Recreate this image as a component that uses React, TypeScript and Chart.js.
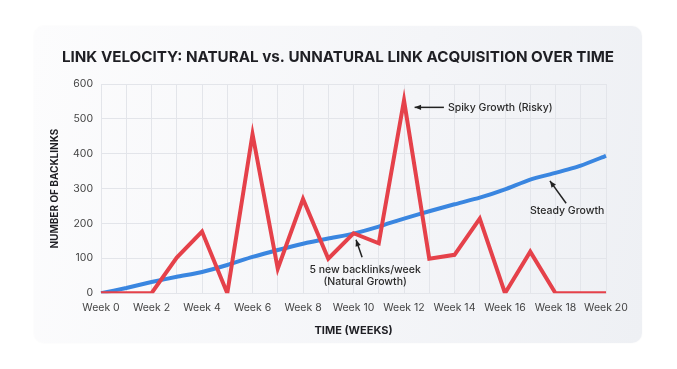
import React, { useEffect, useRef } from "react";
import { Chart, registerables } from "chart.js";

Chart.register(...registerables);

const weeks: string[] = Array.from({ length: 21 }, (_, i) => `Week ${i}`);
const spikyGrowth: number[] = [0, 0, 0, 102, 177, 0, 456, 70, 270, 99, 172, 143, 553, 99, 110, 214, 0, 119, 0, 0, 0];
const steadyGrowth: number[] = [0, 15, 32, 47, 61, 81, 104, 124, 142, 157, 171, 191, 214, 235, 255, 274, 298, 326, 345, 366, 394];
const yTicks: number[] = [0, 100, 200, 300, 400, 500, 600];

const titleText = "LINK VELOCITY: NATURAL vs. UNNATURAL LINK ACQUISITION OVER TIME";
const yTitle = "NUMBER OF BACKLINKS";
const xTitle = "TIME (WEEKS)";

// annotations in data space: [x index, y value]
const noteSpiky = { text: ["Spiky Growth (Risky)"], at: [13.74, 533], from: [13.58, 533], to: [12.42, 533], align: "left" };
const noteSteady = { text: ["Steady Growth"], at: [18.46, 235], from: [18.42, 258], to: [17.78, 322], align: "center" };
const noteNatural = { text: ["5 new backlinks/week", "(Natural Growth)"], at: [10.46, 67], from: [10.34, 103], to: [10.1, 153], align: "center" };
const notes = [noteSpiky, noteSteady, noteNatural];

const FONT = "Inter, 'Open Sans', sans-serif";

const titlePlugin = {
  id: "cardTitle",
  afterDraw(chart: any) {
    const ctx = chart.ctx;
    ctx.save();
    ctx.font = `bold 15.2px ${FONT}`;
    ctx.fillStyle = "#1f1f24";
    ctx.textAlign = "center";
    ctx.textBaseline = "middle";
    ctx.fillText(titleText, chart.width / 2, 31);
    ctx.restore();
  },
};

const annotationPlugin = {
  id: "notes",
  afterDatasetsDraw(chart: any) {
    const ctx = chart.ctx;
    const xs = chart.scales.x;
    const ys = chart.scales.y;
    ctx.save();
    for (const n of notes) {
      const fx = xs.getPixelForValue(n.from[0]);
      const fy = ys.getPixelForValue(n.from[1]);
      const tx = xs.getPixelForValue(n.to[0]);
      const ty = ys.getPixelForValue(n.to[1]);
      ctx.strokeStyle = "#222";
      ctx.fillStyle = "#222";
      ctx.lineWidth = 1.5;
      ctx.beginPath();
      ctx.moveTo(fx, fy);
      ctx.lineTo(tx, ty);
      ctx.stroke();
      const ang = Math.atan2(ty - fy, tx - fx);
      const hl = 7;
      ctx.beginPath();
      ctx.moveTo(tx, ty);
      ctx.lineTo(tx - hl * Math.cos(ang - 0.4), ty - hl * Math.sin(ang - 0.4));
      ctx.lineTo(tx - hl * Math.cos(ang + 0.4), ty - hl * Math.sin(ang + 0.4));
      ctx.closePath();
      ctx.fill();
      const ax = xs.getPixelForValue(n.at[0]);
      const ay = ys.getPixelForValue(n.at[1]);
      ctx.font = `500 10.5px ${FONT}`;
      ctx.fillStyle = "#2a2a2a";
      ctx.textAlign = n.align as CanvasTextAlign;
      ctx.textBaseline = "middle";
      n.text.forEach((t, i) => ctx.fillText(t, ax, ay + i * 12));
    }
    ctx.restore();
  },
};

export default function App() {
  const ref = useRef<HTMLCanvasElement | null>(null);
  useEffect(() => {
    if (!ref.current) return;
    const chart = new Chart(ref.current, {
      type: "line",
      data: {
        labels: weeks,
        datasets: [
          {
            label: "Spiky Growth",
            data: spikyGrowth,
            borderColor: "#e5414a",
            borderWidth: 4,
            pointRadius: 0,
            tension: 0,
            borderJoinStyle: "miter",
          },
          {
            label: "Steady Growth",
            data: steadyGrowth,
            borderColor: "#3a86e0",
            borderWidth: 4,
            pointRadius: 0,
            tension: 0.2,
          },
        ],
      },
      options: {
        animation: false,
        responsive: false,
        layout: { padding: { top: 58, right: 36, left: 11, bottom: 2 } },
        plugins: {
          legend: { display: false },
          tooltip: { enabled: false },
          title: { display: false },
        },
        scales: {
          x: {
            grid: { color: "#e3e5ea", drawTicks: false },
            border: { color: "#e3e5ea" },
            ticks: {
              autoSkip: false,
              maxRotation: 0,
              padding: 8,
              color: "#444",
              font: { family: FONT, size: 10.5 },
              callback: (_v: any, i: number) => (i % 2 === 0 ? weeks[i] : ""),
            },
            title: {
              display: true,
              text: xTitle,
              color: "#1f1f24",
              font: { family: FONT, size: 11, weight: "bold" },
              padding: { top: 2 },
            },
          },
          y: {
            min: 0,
            max: 600,
            afterBuildTicks: (s: any) => {
              s.ticks = yTicks.map((v) => ({ value: v }));
            },
            grid: { color: "#e3e5ea", drawTicks: false },
            border: { color: "#e3e5ea" },
            ticks: { padding: 8, color: "#444", font: { family: FONT, size: 10.5 } },
            title: {
              display: true,
              text: yTitle,
              color: "#1f1f24",
              font: { family: FONT, size: 10, weight: "bold" },
              padding: { bottom: 4 },
            },
          },
        },
      },
      plugins: [annotationPlugin, titlePlugin],
    });
    return () => chart.destroy();
  }, []);

  return (
    <div style={{ position: "relative", width: 661, height: 353 }}>
      <div
        style={{
          position: "absolute",
          left: 26,
          top: 18,
          width: 608,
          height: 317,
          borderRadius: 10,
          background: "linear-gradient(100deg, #fcfcfd 0%, #f4f5f8 60%, #eef0f4 100%)",
          boxShadow: "0 0 2px rgba(0,0,0,0.04)",
        }}
      >
        <canvas ref={ref} width={608} height={317} style={{ display: "block" }} />
      </div>
    </div>
  );
}
